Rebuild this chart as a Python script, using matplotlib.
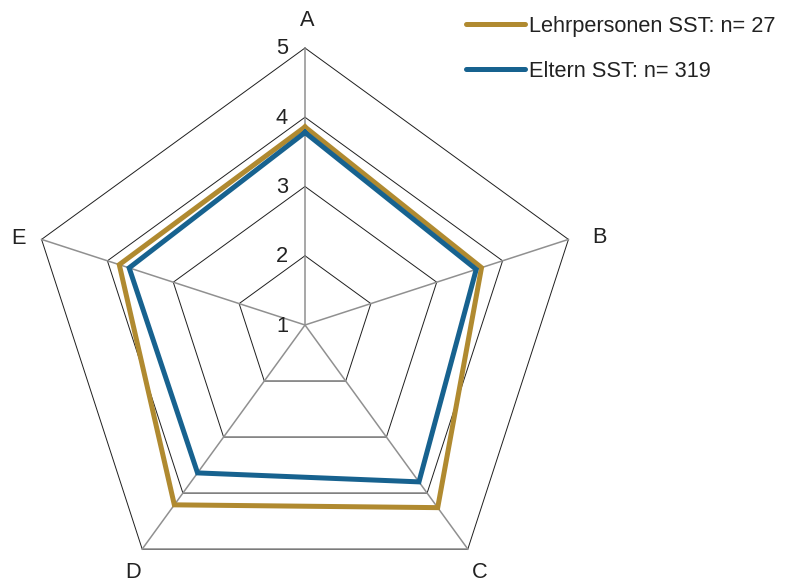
import numpy as np
import matplotlib
matplotlib.use("Agg")
import matplotlib.pyplot as plt
from matplotlib.lines import Line2D

plt.rcParams['font.family'] = ['Liberation Sans', 'DejaVu Sans']

categories = ["A", "B", "C", "D", "E"]
lehrpersonen = [3.86, 3.68, 4.26, 4.21, 3.82]
eltern = [3.78, 3.60, 3.80, 3.64, 3.67]
series_labels = ["Lehrpersonen SST: n= 27", "Eltern SST: n= 319"]
levels = [1, 2, 3, 4, 5]

gold = "#B08A30"
blue = "#17628F"
text_color = "#222222"
FS = 15.7

W, H, DPI = 788, 582, 100
fig = plt.figure(figsize=(W / DPI, H / DPI), dpi=DPI)

# polar axes: centre at (305, 325) px, outer ring radius 277 px
cx, cy, R = 305, 325, 277
ax = fig.add_axes([(cx - R) / W, (H - cy - R) / H, 2 * R / W, 2 * R / H],
                  projection="polar")
ax.set_theta_zero_location("N")
ax.set_theta_direction(-1)
ax.set_ylim(1, 5)
ax.grid(False)
ax.spines["polar"].set_visible(False)
ax.set_xticks([])
ax.set_yticks([])
ax.patch.set_visible(False)

n = len(categories)
theta = np.arange(n) * 2 * np.pi / n
theta_closed = np.append(theta, theta[0])

# pentagonal grid rings
for lv in levels[1:]:
    ax.plot(theta_closed, [lv] * (n + 1), color="#1e1e1e", lw=0.7,
            zorder=1, clip_on=False)
# spokes
for t in theta:
    ax.plot([t, t], [1, 5], color="#909090", lw=1.1, zorder=1, clip_on=False)

# data polygons
for vals, col in [(lehrpersonen, gold), (eltern, blue)]:
    v = np.append(vals, vals[0])
    ax.plot(theta_closed, v, color=col, lw=3.6, zorder=3,
            solid_joinstyle="miter", clip_on=False)

# category labels, placed just outside the outer ring vertices
label_offsets = [(2, 28), (31, 2), (12, -23), (-9, -23), (-23, 1)]
for t, c, off in zip(theta, categories, label_offsets):
    ax.annotate(c, xy=(t, levels[-1]), xytext=off, textcoords="offset pixels",
                ha="center", va="center", fontsize=FS, color=text_color,
                annotation_clip=False)

# radial value labels along the A spoke
for lv in levels:
    ax.annotate(str(lv), xy=(0, lv), xytext=(-17, -1),
                textcoords="offset pixels", ha="right", va="center",
                fontsize=FS, color=text_color, annotation_clip=False)

handles = [Line2D([], [], color=gold, lw=3.6, solid_capstyle="round"),
           Line2D([], [], color=blue, lw=3.6, solid_capstyle="round")]
leg = fig.legend(handles, series_labels, loc="upper left",
                 bbox_to_anchor=(466 / W, 1 - 16 / H), frameon=False,
                 fontsize=FS, handlelength=2.7, handletextpad=0.2,
                 labelspacing=1.1, borderaxespad=0, borderpad=0)
for t in leg.get_texts():
    t.set_color(text_color)

fig.savefig("out.png", dpi=DPI)
